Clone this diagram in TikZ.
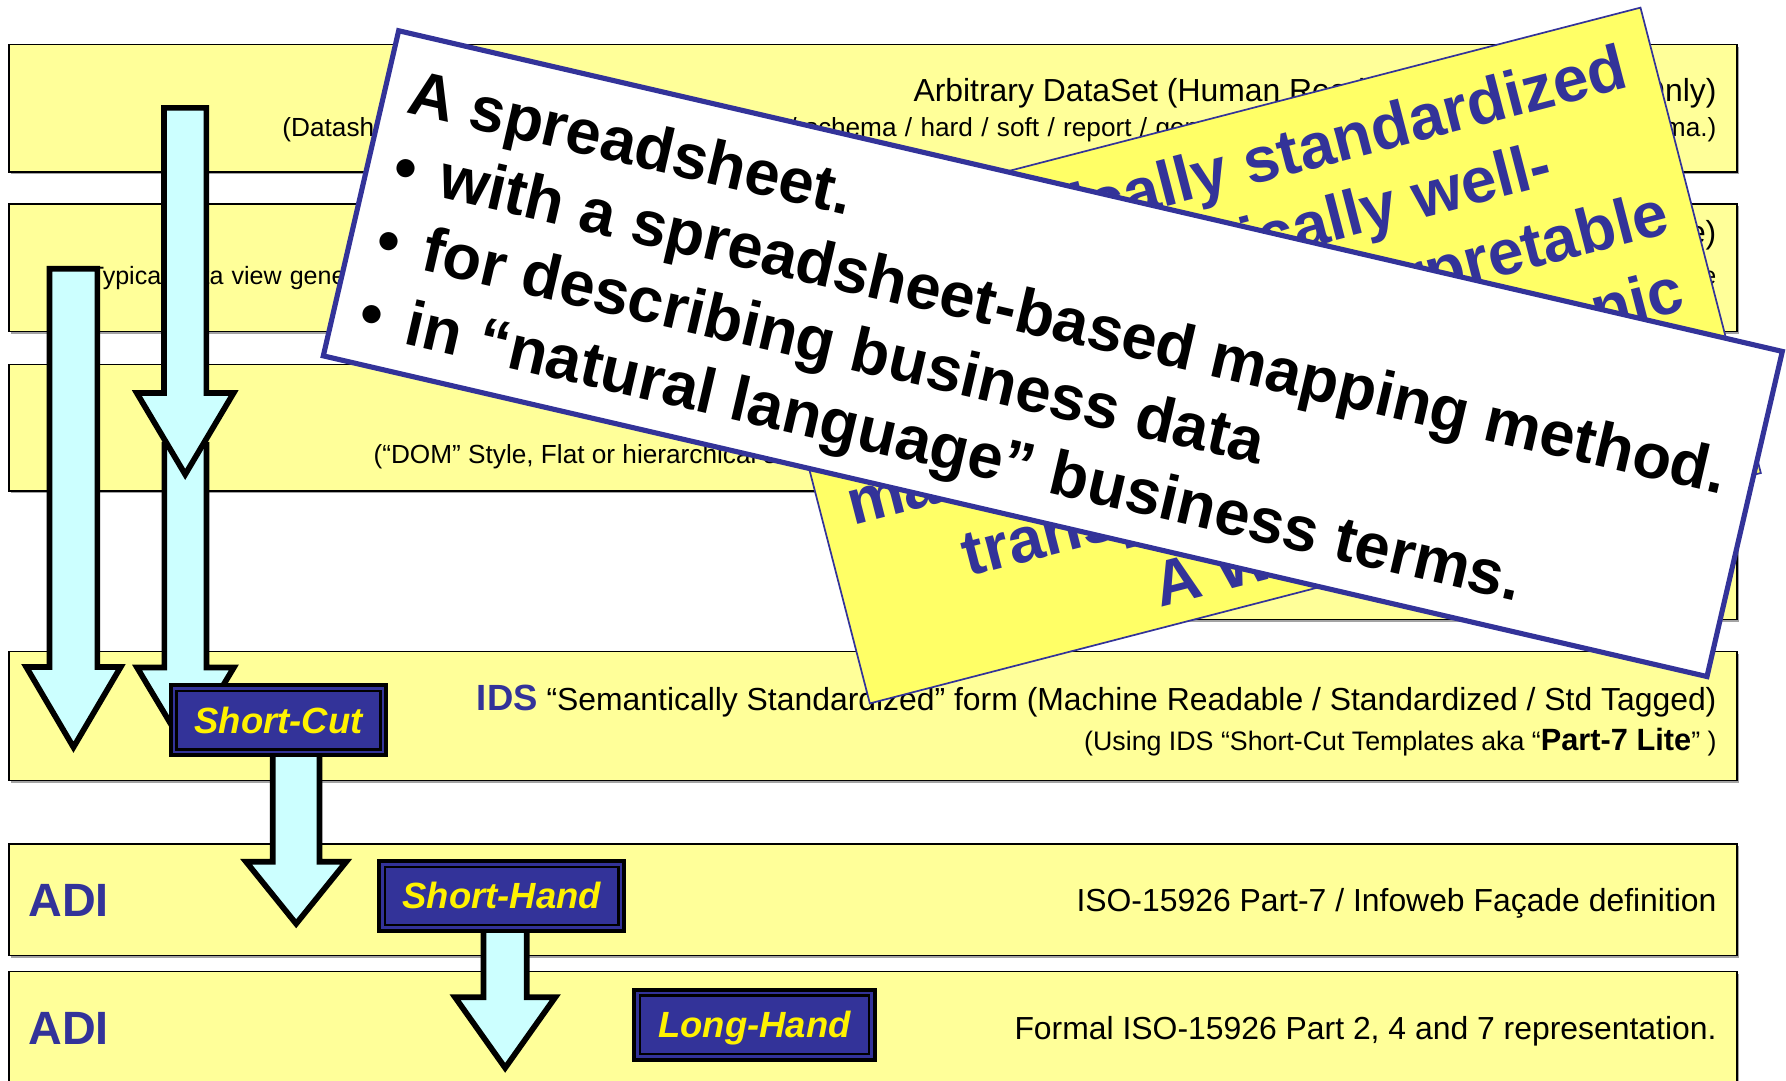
\documentclass[tikz,border=0pt]{standalone}
\usepackage{fontspec}
\setmainfont{Liberation Sans}
\usetikzlibrary{shadows}

\definecolor{bandfill}{HTML}{FFFF99}
\definecolor{notefill}{HTML}{FFFF66}
\definecolor{navy}{HTML}{333399}
\definecolor{arrowfill}{HTML}{CCFFFF}
\newcommand\fsz[1]{\fontsize{#1pt}{#1pt}\selectfont}
% block arrow: #1 top centre, #2 shaft length, #3 head length, #4 shaft half width, #5 head half width
\newcommand\blockarrow[5]{%
  \draw[bigarrow] (#1) ++(-#4,0) -- ++(0,#2) -- ++(#4-#5,0) -- ++(#5,#3)
    -- ++(#5,-#3) -- ++(#4-#5,0) -- ++(0,-#2) -- cycle;}

\begin{document}
\begin{tikzpicture}[x=1pt,y=-1pt,
  band/.style={draw=black, line width=1.2pt, fill=bandfill, anchor=north west,
    inner sep=0pt, outer sep=0pt,
    drop shadow={shadow xshift=2pt, shadow yshift=-2pt, fill=black!60, opacity=0.6}},
  lbl/.style={inner sep=0pt, outer sep=0pt},
  bigarrow/.style={draw=black, line width=5pt, fill=arrowfill, line join=miter, miter limit=20},
  tag/.style={fill=navy, draw=black, line width=3.5pt, text=yellow,
    font=\fsz{32}\bfseries\itshape, minimum height=61.5pt, inner sep=0pt, outer sep=0pt,
    text height=22.9pt, text depth=0pt},
  taginner/.style={draw=black, line width=2pt},
  cardtext/.style={lbl, anchor=base west, font=\fsz{55.6}\bfseries},
  notetext/.style={lbl, font=\fsz{56}\bfseries, text=navy},
]
\useasboundingbox (0,0) rectangle (1568,949);
\clip (0,0) rectangle (1568,949);

% ---- layer bands ----
\node[band, minimum width=1517pt, minimum height=112pt] (b1) at (8,39) {};
\node[band, minimum width=1517pt, minimum height=112pt] (b2) at (8,179) {};
\node[band, minimum width=1517pt, minimum height=111pt] (b3) at (8,320) {};
\node[band, minimum width=765pt,  minimum height=84pt]  (b4) at (760,460) {};
\node[band, minimum width=1517pt, minimum height=113pt] (b5) at (8,572) {};
\node[band, minimum width=1517pt, minimum height=98pt]  (b6) at (8,741) {};
\node[band, minimum width=1517pt, minimum height=130pt] (b7) at (8,853) {};

% ---- band captions ----
\node[lbl, anchor=base east, font=\fsz{28}] (t1a) at (1507,89.5)
  {\makebox[705pt][s]{Arbitrary DataSet (Human Readable / Interpretable Only)}};
\node[lbl, anchor=base east, font=\fsz{23}] (t1b) at (1507,120)
  {\makebox[1259pt][s]{(Datasheet / spreadsheet / drawing / index / schema / hard / soft / report / generic / no specific structure, form or schema.)}};
\node[lbl, anchor=base east, font=\fsz{28}] (t2a) at (1507,214)
  {Application Specific DataSet (Machine Readable / Proprietary Structure)};
\node[lbl, anchor=base east, font=\fsz{22}] (t2b) at (1507,250)
  {\makebox[1429pt][s]{Typical data view generated by an application, database or tool (Proprietary application-specific structure, no standard schema), Human readable}};
\node[lbl, anchor=base west, font=\fsz{23}] (t3b) at (328,407)
  {(“DOM” Style, Flat or hierarchical structure)};
\node[lbl, anchor=base east] (t5a) at (1507,623.4)
  {{\fsz{32}\bfseries\color{navy}IDS}\fsz{28} “Semantically Standardized” form (Machine Readable / Standardized / Std Tagged)};
\node[lbl, anchor=base east, font=\fsz{23.5}] (t5b) at (1507,658.5)
  {(Using IDS “Short-Cut Templates aka “{\fsz{27}\bfseries Part-7 Lite}” )};
\node[lbl, anchor=base west, font=\fsz{41}\bfseries, text=navy] (adi1) at (25,805) {ADI};
\node[lbl, anchor=base west, font=\fsz{41}\bfseries, text=navy] (adi2) at (25,916.6) {ADI};
\node[lbl, anchor=base east, font=\fsz{28}] (t6) at (1507,800.4)
  {ISO-15926 Part-7 / Infoweb Façade definition};
\node[lbl, anchor=base east, font=\fsz{28}] (t7) at (1507,913)
  {Formal ISO-15926 Part 2, 4 and 7 representation.};

% ---- flow arrows ----
\coordinate (aTop)  at (64.5,236);
\coordinate (bTop)  at (162.6,94.7);
\coordinate (b2Top) at (162.8,390.5);
\coordinate (cTop)  at (260,640);
\coordinate (dTop)  at (443.5,790);
\blockarrow{aTop}{349.5}{70.5}{21}{41.5}
\blockarrow{b2Top}{195.5}{71}{18.5}{42.5}
\blockarrow{bTop}{250.3}{71.5}{18.6}{42.5}
\blockarrow{cTop}{116.5}{54.5}{20.5}{44}
\blockarrow{dTop}{85.5}{62}{19}{44}

% ---- form tags ----
\node[tag, minimum width=189.5pt] (sc) at (244.5,632.5) {Short-Cut};
\draw[taginner] ([shift={(5.2,5.2)}]sc.north west) rectangle ([shift={(-5.2,-5.2)}]sc.south east);
\node[tag, minimum width=215.5pt] (sh) at (440.5,786.5) {Short-Hand};
\draw[taginner] ([shift={(5.2,5.2)}]sh.north west) rectangle ([shift={(-5.2,-5.2)}]sh.south east);
\node[tag, minimum width=211.5pt] (lh) at (662.5,899.5) {Long-Hand};
\draw[taginner] ([shift={(5.2,5.2)}]lh.north west) rectangle ([shift={(-5.2,-5.2)}]lh.south east);

% ---- yellow note card ----
\begin{scope}[shift={(658,209)}, rotate=14.5, transform shape]
  \draw[draw=navy, line width=1.5pt, fill=notefill] (0,0) rectangle (808,422);
  \node[notetext, anchor=base east] (n1) at (782,65)  {Semantically standardized};
  \node[notetext, anchor=base east] (n2) at (697,131) {Syntactically well-};
  \node[notetext, anchor=base east] (n3) at (785,198) {formed and interpretable};
  \node[notetext, anchor=base]      (n4) at (403,267) {machine-readable electronic};
  \node[notetext, anchor=base west] (n5) at (112,336) {transportable format.};
  \node[notetext, anchor=base west] (n6) at (268,404) {A Winner.};
\end{scope}

% ---- white card ----
\begin{scope}[shift={(350,27)}, rotate=-13.05, transform shape]
  \draw[draw=navy, line width=4.5pt, fill=white] (0,0) rectangle (1247,293);
  \node[cardtext] (c1) at (22,69)    {A spreadsheet.};
  \node[cardtext] (c2) at (24,134.5) {\makebox[41pt][l]{•}with a spreadsheet-based mapping method.};
  \node[cardtext] (c3) at (24,200.5) {\makebox[41pt][l]{•}for describing business data};
  \node[cardtext] (c4) at (24,266.5) {\makebox[41pt][l]{•}in “natural language” business terms.};
\end{scope}
\end{tikzpicture}
\end{document}
